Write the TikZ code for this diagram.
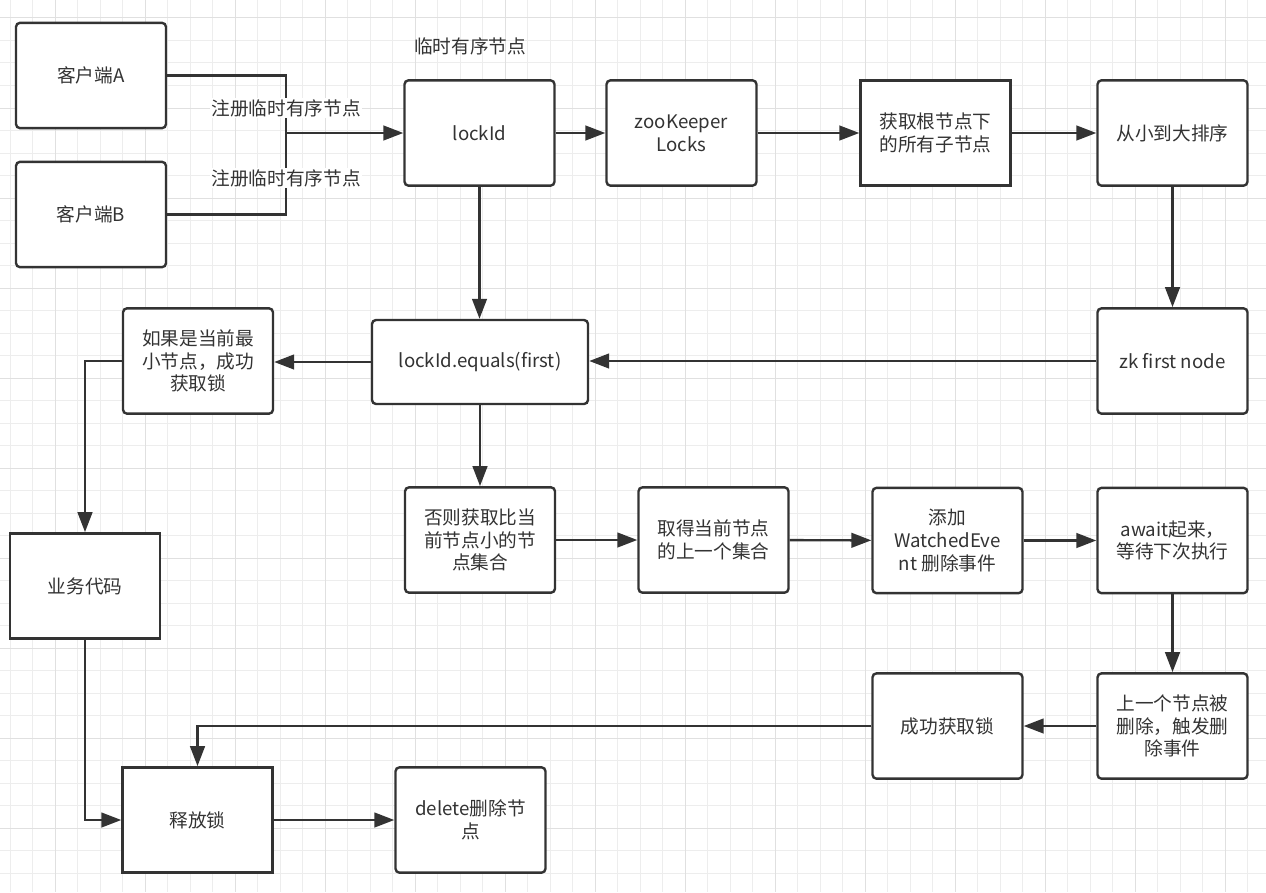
\documentclass[tikz,border=0pt]{standalone}
\usepackage{fontspec}
\setmainfont{Noto Sans CJK SC}
\usetikzlibrary{arrows.meta}
\definecolor{ink}{HTML}{333333}
\tikzset{
  card/.style={draw=ink, line width=1.8pt, fill=white, rounded corners=3pt, align=center, text=ink,
    font=\fontsize{14}{17}\selectfont, minimum width=112.5pt, minimum height=79pt, inner sep=2pt},
  plaincard/.style={card, sharp corners},
  flow/.style={draw=ink, line width=1.8pt, -{Triangle[length=15pt, width=11pt]}},
  wire/.style={draw=ink, line width=1.8pt},
  note/.style={text=ink, font=\fontsize{14}{17}\selectfont, inner sep=1pt},
}

\begin{document}
\begin{tikzpicture}[x=0.75pt,y=-0.75pt]
\useasboundingbox (0,0) rectangle (1266,892);
\fill[white] (0,0) rectangle (1266,892);
% grid
\foreach \gx in {10,32.5,...,1266} \draw[black!7, line width=0.75pt] (\gx,0) -- (\gx,892);
\foreach \gy in {18,40.5,...,892} \draw[black!7, line width=0.75pt] (0,\gy) -- (1266,\gy);
\foreach \gx in {55,145,...,1266} \draw[black!12, line width=0.75pt] (\gx,0) -- (\gx,892);
\foreach \gy in {18,108,...,892} \draw[black!12, line width=0.75pt] (0,\gy) -- (1266,\gy);

% top row
\node[card] (cliA) at (91,75.5) {客户端A};
\node[card] (cliB) at (91,214.5) {客户端B};
\node[card] (lockid) at (479.5,133) {lockId};
\node[card] (zk) at (681.5,133) {zooKeeper\\Locks};
\node[plaincard] (children) at (935.5,133) {获取根节点下\\的所有子节点};
\node[card] (sortb) at (1172.5,133) {从小到大排序};

% middle row
\node[card] (ifmin) at (198,361) {如果是当前最\\小节点，成功\\获取锁};
\node[card, minimum width=162pt, minimum height=63pt] (equals) at (480,362) {lockId.equals(first)};
\node[card] (first) at (1172.5,361) {zk first node};

% lower rows
\node[plaincard] (biz) at (85,586) {业务代码};
\node[card] (elseb) at (480,540) {否则获取比当\\前节点小的节\\点集合};
\node[card] (prev) at (713.5,540) {取得当前节点\\的上一个集合};
\node[card] (watch) at (947.5,540.5) {添加\\WatchedEve\\nt 删除事件};
\node[card] (await) at (1172.5,540.5) {await起来，\\等待下次执行};
\node[card] (gotlock) at (947.5,726) {成功获取锁};
\node[card] (deleted) at (1172.5,726) {上一个节点被\\删除，触发删\\除事件};
\node[plaincard] (release) at (197.5,820) {释放锁};
\node[card] (delnode) at (470.5,820) {delete删除节\\点};

% connectors
\coordinate (join) at (286,133);
\draw[wire] (cliA.east) -| (join);
\draw[wire] (cliB.east) -| (join);
\draw[flow] (join) -- (lockid.west);
\draw[flow] (lockid) -- (zk);
\draw[flow] (zk) -- (children);
\draw[flow] (children) -- (sortb);
\draw[flow] (sortb) -- (first);
\draw[flow] (first.west) -- (first.west -| equals.east);
\draw[flow] (lockid.south) -- (lockid.south |- equals.north);
\draw[flow] (equals.west) -- (equals.west -| ifmin.east);
\draw[flow] (ifmin.west) -| (biz.north);
\draw[flow] (equals.south) -- (equals.south |- elseb.north);
\draw[flow] (elseb) -- (prev);
\draw[flow] (prev) -- (watch);
\draw[flow] (watch) -- (await);
\draw[flow] (await) -- (deleted);
\draw[flow] (deleted) -- (gotlock);
\draw[flow] (gotlock.west) -| (release.north);
\draw[flow] (biz.south) |- (release.west);
\draw[flow] (release) -- (delnode);

% labels
\node[note] (tmplabel) at (470,46) {临时有序节点};
\node[note, fill=white] (regA) at (286,108) {注册临时有序节点};
\node[note, fill=white] (regB) at (286,178) {注册临时有序节点};
\end{tikzpicture}
\end{document}
